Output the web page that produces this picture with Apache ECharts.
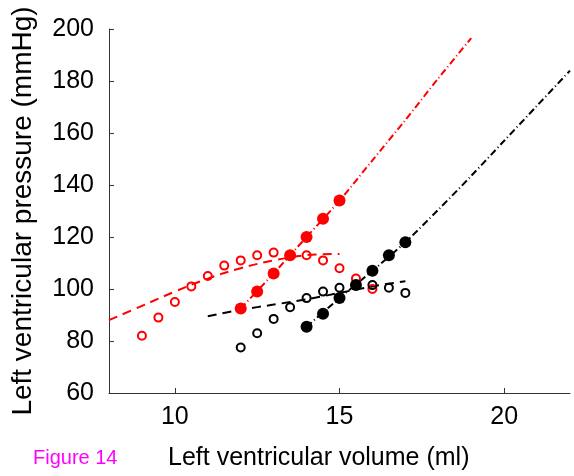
<!DOCTYPE html>
<html>
<head>
<meta charset="utf-8">
<script src="https://cdn.jsdelivr.net/npm/echarts@6/dist/echarts.min.js"></script>
<style>
html,body{margin:0;padding:0;background:#fff;}
#chart{width:574px;height:476px;}
</style>
</head>
<body>
<div id="chart"></div>
<script>
// Tick labels
var xTicks = [10, 15, 20];
var yTicks = [60, 80, 100, 120, 140, 160, 180, 200];

// Red (open circles)
var redOpenX = [9, 9.5, 10, 10.5, 11, 11.5, 12, 12.5, 13, 13.5, 14, 14.5, 15, 15.5, 16];
var redOpenY = [82, 89, 95, 101, 105, 109, 111, 113, 114, 113, 113, 111, 108, 104, 100];
// Red dashed fit
var redDashX = [8, 9, 10, 11, 12, 13, 14, 15];
var redDashY = [88, 93.5, 99, 104, 108, 111, 113, 113.5];
// Red filled circles
var redFillX = [12, 12.5, 13, 13.5, 14, 14.5, 15];
var redFillY = [92.5, 99, 106, 113, 120, 127, 134];
// Red dash-dot fit
var redDDX = [12, 13, 14, 15, 16, 17, 18, 19];
var redDDY = [92.5, 106, 120, 134, 149.5, 165, 181, 196.5];

// Black (open circles)
var blkOpenX = [12, 12.5, 13, 13.5, 14, 14.5, 15, 15.5, 16, 16.5, 17];
var blkOpenY = [77.5, 83, 88.5, 93, 96.5, 99, 100.5, 101.5, 101.5, 100.5, 98.5];
// Black dashed fit
var blkDashX = [11, 12, 13, 14, 15, 16, 17];
var blkDashY = [89.5, 92, 94, 96, 98.5, 101, 103];
// Black filled circles
var blkFillX = [14, 14.5, 15, 15.5, 16, 16.5, 17];
var blkFillY = [85.5, 90.5, 96.5, 101.5, 107, 113, 118];
// Black dash-dot fit
var blkDDX = [14, 15, 16, 17, 18, 19, 20, 21, 22];
var blkDDY = [85.5, 96.5, 107, 118, 130.5, 143.5, 157, 170.5, 184];

function pairs(xs, ys){ return xs.map(function(x,i){ return [x, ys[i]]; }); }

var FONT = '"Liberation Sans", Arial, Helvetica, sans-serif';
var chart = echarts.init(document.getElementById('chart'), null, {renderer:'canvas'});

var option = {
  backgroundColor: '#fff',
  animation: false,
  grid: {left: 109, right: 4, top: 29, bottom: 83, containLabel: false},
  xAxis: {
    type: 'value', min: 8, max: 22,
    splitLine: {show: false},
    axisLine: {lineStyle: {color: '#333', width: 1}},
    axisTick: {inside: true, length: 5, customValues: xTicks, lineStyle: {color: '#333'}},
    axisLabel: {customValues: xTicks, color: '#000', fontSize: 25, fontFamily: FONT, margin: 12}
  },
  yAxis: {
    type: 'value', min: 60, max: 200, interval: 20,
    name: 'Left ventricular pressure (mmHg)',
    nameLocation: 'middle', nameRotate: 90, nameGap: 72,
    nameTextStyle: {color: '#000', fontSize: 28, fontFamily: FONT},
    splitLine: {show: false},
    axisLine: {show: true, lineStyle: {color: '#333', width: 1}},
    axisTick: {show: true, inside: true, length: 5, lineStyle: {color: '#333'}},
    axisLabel: {color: '#000', fontSize: 25, fontFamily: FONT, margin: 15,
      formatter: function(v){ return yTicks.indexOf(v) >= 0 ? String(v) : ''; }}
  },
  graphic: [
    {type: 'text', left: 168, top: 446, style: {text: 'Left ventricular volume (ml)', fill: '#000', font: '25px ' + FONT}},
    {type: 'text', left: 33, top: 448, style: {text: 'Figure 14', fill: '#ff00ff', font: '20px ' + FONT}}
  ],
  series: [
    {type: 'line', data: pairs(redDashX, redDashY), smooth: 0.4, showSymbol: false, symbol: 'none',
      lineStyle: {color: '#ff0000', width: 2, type: [9, 6]}, z: 2},
    {type: 'line', data: pairs(redDDX, redDDY), smooth: 0.3, showSymbol: false, symbol: 'none',
      lineStyle: {color: '#ff0000', width: 2, type: [7, 3, 1, 3]}, z: 2},
    {type: 'line', data: pairs(blkDashX, blkDashY), smooth: 0.3, showSymbol: false, symbol: 'none',
      lineStyle: {color: '#000', width: 2, type: [9, 6]}, z: 2},
    {type: 'line', data: pairs(blkDDX, blkDDY), smooth: 0.3, showSymbol: false, symbol: 'none',
      lineStyle: {color: '#000', width: 2, type: [7, 3, 1, 3]}, z: 2},
    {type: 'scatter', data: pairs(redOpenX, redOpenY), symbol: 'circle', symbolSize: 8,
      itemStyle: {color: 'rgba(255,255,255,0)', borderColor: '#ff0000', borderWidth: 2, opacity: 1}, z: 3},
    {type: 'scatter', data: pairs(blkOpenX, blkOpenY), symbol: 'circle', symbolSize: 8,
      itemStyle: {color: 'rgba(255,255,255,0)', borderColor: '#000', borderWidth: 2, opacity: 1}, z: 3},
    {type: 'scatter', data: pairs(redFillX, redFillY), symbol: 'circle', symbolSize: 12,
      itemStyle: {color: '#ff0000', opacity: 1}, z: 4},
    {type: 'scatter', data: pairs(blkFillX, blkFillY), symbol: 'circle', symbolSize: 12,
      itemStyle: {color: '#000', opacity: 1}, z: 4}
  ]
};
chart.setOption(option);
</script>
</body>
</html>
